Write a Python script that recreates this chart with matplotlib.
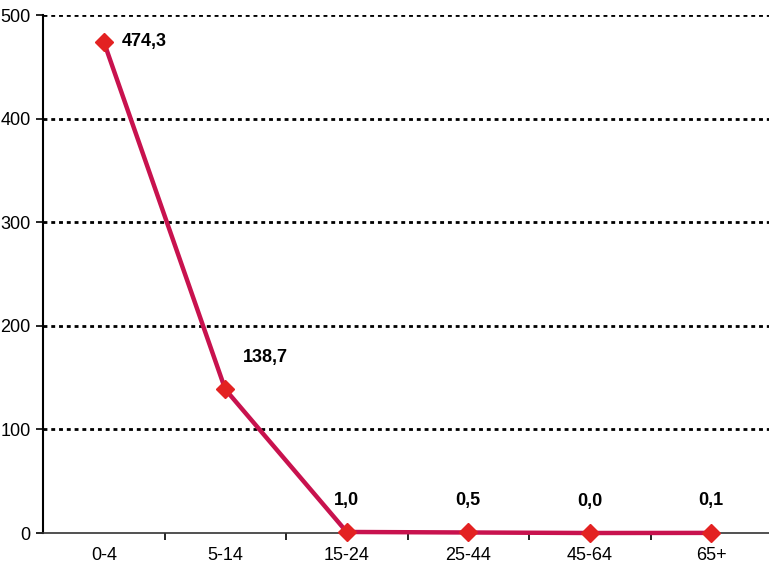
import matplotlib
matplotlib.use("Agg")
import matplotlib.pyplot as plt

# Incidence by age group
age_groups = ["0-4", "5-14", "15-24", "25-44", "45-64", "65+"]
values = [474.3, 138.7, 1.0, 0.5, 0.0, 0.1]
value_labels = ["474,3", "138,7", "1,0", "0,5", "0,0", "0,1"]
yticks = [0, 100, 200, 300, 400, 500]

plt.rcParams["font.family"] = ["Liberation Sans Narrow", "Liberation Sans", "DejaVu Sans"]

fig = plt.figure(figsize=(7.69, 5.72), dpi=100)
ax = fig.add_axes([43 / 769, 1 - 533 / 572, (772 - 43) / 769, (533 - 15) / 572])

x = list(range(len(age_groups)))
ax.plot(x, values, color="#C8124E", lw=3.2, zorder=3, clip_on=False)
ax.plot(x, values, ls="none", marker="D", ms=9, color="#E32222", zorder=4, clip_on=False)

# value labels
for i, (v, lab) in enumerate(zip(values, value_labels)):
    if i == 0:
        ax.annotate(lab, (i, v), xytext=(13, 0), textcoords="offset points",
                    ha="left", va="center", fontsize=13, fontweight="bold")
    elif i == 1:
        ax.annotate(lab, (i, v), xytext=(13, 23), textcoords="offset points",
                    ha="left", va="center", fontsize=13, fontweight="bold")
    else:
        ax.annotate(lab, (i, v), xytext=(0, 23), textcoords="offset points",
                    ha="center", va="center", fontsize=13, fontweight="bold")

ax.set_xlim(-0.5, len(age_groups) - 0.5)
ax.set_ylim(0, 500)
ax.set_yticks(yticks)
ax.set_yticklabels([str(t) for t in yticks], fontsize=13)
ax.set_xticks(x)
ax.set_xticklabels(age_groups, fontsize=13)
ax.set_xticks([i + 0.5 for i in range(len(age_groups) - 1)], minor=True)
ax.tick_params(axis="x", which="major", length=0, pad=10)
ax.tick_params(axis="x", which="minor", length=5, width=1.2, direction="out")
ax.tick_params(axis="y", length=5, width=1.2, direction="out", pad=4)

for t in yticks[1:]:
    ax.axhline(t, color="black", lw=2, ls=(0, (1.4, 1.4)), zorder=1)

for s in ["top", "right"]:
    ax.spines[s].set_visible(False)
ax.spines["left"].set_linewidth(1.5)
ax.spines["bottom"].set_linewidth(1.2)
ax.spines["bottom"].set_color("#333333")

fig.savefig("out.png", dpi=100)
